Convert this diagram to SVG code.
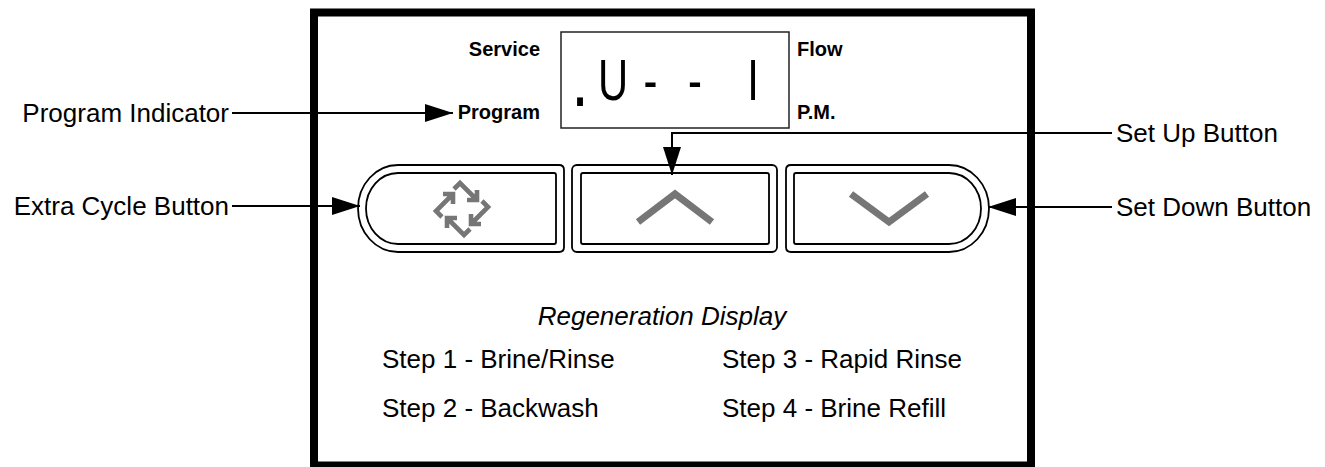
<svg xmlns="http://www.w3.org/2000/svg" xmlns:xlink="http://www.w3.org/1999/xlink" width="1325" height="467" viewBox="0 0 1325 467">
<style>
.lbl{font-family:"Liberation Sans",Arial,sans-serif;font-size:26px;fill:#000}
.tag{font-family:"Liberation Sans",Arial,sans-serif;font-size:20px;font-weight:bold;fill:#000}
.btn{fill:#fff;stroke:#000;stroke-width:1.8}
.ico{fill:none;stroke:#767676;stroke-width:7;stroke-linejoin:miter}
.rec{fill:none;stroke:#767676;stroke-width:4.6;stroke-linejoin:miter;stroke-linecap:butt}
.con{fill:none;stroke:#000;stroke-width:2}
.lcd{font-family:"Liberation Sans",Arial,sans-serif;font-size:58px;fill:#000}
</style>
<defs>
<marker id="ah" viewBox="0 0 28 18" refX="28" refY="9" markerWidth="28" markerHeight="18" markerUnits="userSpaceOnUse" orient="auto">
<path d="M0,0 L28,9 L0,18 Z" fill="#000"/>
</marker>
<path id="recArrow" class="rec" d="M-8,-20 L-2,-26 L15,-9 M5,-9 H15 V-19"/>
</defs>
<rect width="1325" height="467" fill="#fff"/>

<g id="frame">
<rect x="314" y="12.5" width="717" height="453" fill="none" stroke="#000" stroke-width="8"/>
</g>

<g id="display">
<rect x="561" y="32" width="228" height="96" fill="#fff" stroke="#222" stroke-width="1.5"/>
<text class="lcd" transform="scale(0.72,1)" text-anchor="middle"><tspan x="805.6" y="106" font-weight="bold">.</tspan><tspan x="851.4" y="100">U</tspan><tspan x="903.5" y="100">-</tspan><tspan x="965.3" y="100">-</tspan><tspan x="1045.8" y="100">I</tspan></text>
<text class="tag" x="540" y="56" text-anchor="end">Service</text>
<text class="tag" x="540" y="119" text-anchor="end">Program</text>
<text class="tag" x="797" y="56">Flow</text>
<text class="tag" x="797" y="119">P.M.</text>
</g>

<g id="btn-extra">
<path class="btn" d="M398,165 H559 Q564,165 564,170 V247 Q564,252 559,252 H398 A40,43.5 0 0 1 398,165 Z"/>
<path class="btn" d="M398,173 H554 Q556,173 556,175 V242 Q556,244 554,244 H398 A32,35.5 0 0 1 398,173 Z"/>
<g transform="translate(462,209)">
<use xlink:href="#recArrow"/>
<use xlink:href="#recArrow" transform="rotate(90)"/>
<use xlink:href="#recArrow" transform="rotate(180)"/>
<use xlink:href="#recArrow" transform="rotate(270)"/>
</g>
</g>

<g id="btn-up">
<rect class="btn" x="572" y="165" width="205" height="87" rx="5"/>
<rect class="btn" x="581" y="173" width="188" height="71" rx="2"/>
<polyline class="ico" points="638,222 675,194 712,222"/>
</g>

<g id="btn-down">
<path class="btn" d="M949,165 A40,43.5 0 0 1 949,252 H791 Q786,252 786,247 V170 Q786,165 791,165 Z"/>
<path class="btn" d="M949,173 A32,35.5 0 0 1 949,244 H796 Q794,244 794,242 V175 Q794,173 796,173 Z"/>
<polyline class="ico" points="851,194 889,222 927,194"/>
</g>

<g id="label-program-indicator"><text class="lbl" x="229" y="122" text-anchor="end">Program Indicator</text></g>
<g id="label-extra-cycle"><text class="lbl" x="229" y="215" text-anchor="end">Extra Cycle Button</text></g>
<g id="label-set-up"><text class="lbl" x="1116" y="142">Set Up Button</text></g>
<g id="label-set-down"><text class="lbl" x="1116" y="216">Set Down Button</text></g>

<g id="regeneration">
<text class="lbl" x="662" y="325" text-anchor="middle" font-style="italic" font-size="24">Regeneration Display</text>
<text class="lbl" x="382" y="368">Step 1 - Brine/Rinse</text>
<text class="lbl" x="722" y="368">Step 3 - Rapid Rinse</text>
<text class="lbl" x="382" y="417">Step 2 - Backwash</text>
<text class="lbl" x="722" y="417">Step 4 - Brine Refill</text>
</g>

<g id="connectors">
<path class="con" d="M232,113 H453" marker-end="url(#ah)"/>
<path class="con" d="M232,206 H360" marker-end="url(#ah)"/>
<path class="con" stroke-width="1.5" d="M1112,133 H672 V175" marker-end="url(#ah)"/>
<path class="con" d="M1112,207 H988" marker-end="url(#ah)"/>
</g>
</svg>
